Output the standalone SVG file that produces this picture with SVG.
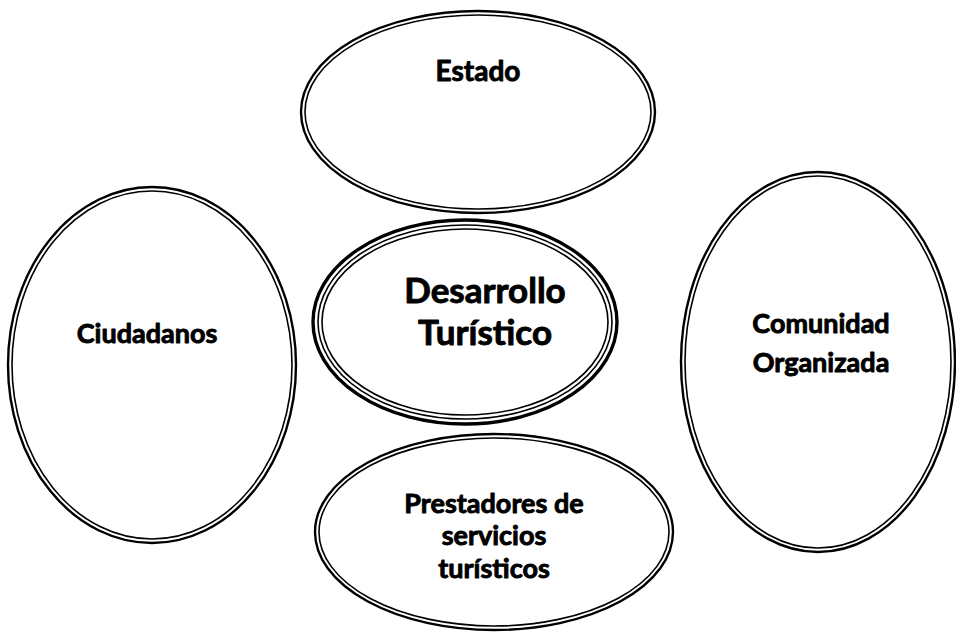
<svg xmlns="http://www.w3.org/2000/svg" width="956" height="634" viewBox="0 0 956 634">
<style>
.o{fill:#fff;stroke:#000;stroke-width:2.4}
.i{fill:none;stroke:#000;stroke-width:1.6}
.t{font-family:Lato,"Liberation Sans",sans-serif;font-weight:bold;fill:#000;stroke:#000;stroke-width:0.9;stroke-linejoin:round;text-anchor:middle}
</style>
<rect width="956" height="634" fill="#fff"/>
<g id="connectors"></g>
<g id="estado">
<ellipse class="o" cx="478" cy="112" rx="177" ry="101"/>
<ellipse class="i" cx="478" cy="112" rx="173" ry="97"/>
<text class="t" x="478" y="81" font-size="28">Estado</text>
</g>
<g id="ciudadanos">
<ellipse class="o" cx="152" cy="365" rx="144" ry="178"/>
<ellipse class="i" cx="152" cy="365" rx="140" ry="174"/>
<text class="t" x="147" y="343" font-size="27">Ciudadanos</text>
</g>
<g id="comunidad">
<ellipse class="o" cx="818" cy="362" rx="137" ry="190"/>
<ellipse class="i" cx="818" cy="362" rx="133" ry="186"/>
<text class="t" x="821" y="333" font-size="27">Comunidad</text>
<text class="t" x="821" y="372" font-size="27">Organizada</text>
</g>
<g id="prestadores">
<ellipse class="o" cx="494" cy="532" rx="179" ry="98"/>
<ellipse class="i" cx="494" cy="532" rx="175" ry="94"/>
<text class="t" x="494" y="513" font-size="27">Prestadores de</text>
<text class="t" x="494" y="545" font-size="27">servicios</text>
<text class="t" x="494" y="578" font-size="27">turísticos</text>
</g>
<g id="desarrollo">
<ellipse cx="465" cy="322" rx="152" ry="102" fill="#fff" stroke="#000" stroke-width="3.4"/>
<ellipse class="i" cx="465" cy="322" rx="147" ry="97"/>
<ellipse class="i" cx="465" cy="322" rx="143" ry="93"/>
<text class="t" x="485" y="303" font-size="35">Desarrollo</text>
<text class="t" x="485" y="345" font-size="35">Turístico</text>
</g>
</svg>
